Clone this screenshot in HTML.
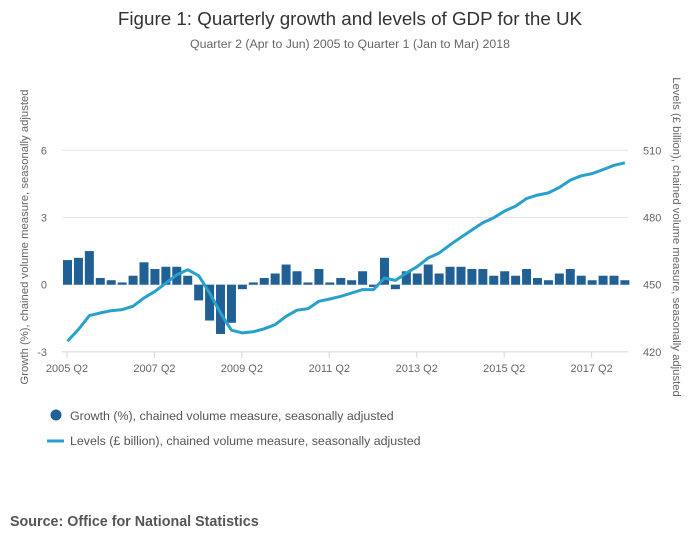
<!DOCTYPE html>
<html><head><meta charset="utf-8"><style>
body{margin:0;background:#fff;font-family:"Liberation Sans",sans-serif}
svg text{font-family:"Liberation Sans",sans-serif}
</style></head><body>
<svg id="chart" width="700" height="549">
<text x="350" y="25" text-anchor="middle" font-size="18.8" fill="#333">Figure 1: Quarterly growth and levels of GDP for the UK</text>
<text x="350" y="48" text-anchor="middle" font-size="12.3" fill="#666">Quarter 2 (Apr to Jun) 2005 to Quarter 1 (Jan to Mar) 2018</text>
<text transform="translate(28,237) rotate(-90)" text-anchor="middle" font-size="11.3" fill="#666">Growth (%), chained volume measure, seasonally adjusted</text>
<text transform="translate(673,237) rotate(90)" text-anchor="middle" font-size="11.3" fill="#666">Levels (£ billion), chained volume measure, seasonally adjusted</text>
<g id="grid"></g><g id="bars"></g><g id="line"></g><g id="axes"></g>
<g>
<circle cx="56" cy="415" r="5.5" fill="#206095"/>
<text x="70" y="420" font-size="12.4" fill="#555">Growth (%), chained volume measure, seasonally adjusted</text>
<line x1="47" y1="441" x2="64" y2="441" stroke="#27a0cc" stroke-width="3"/>
<text x="70" y="445" font-size="12.4" fill="#555">Levels (£ billion), chained volume measure, seasonally adjusted</text>
</g>
<text x="10" y="526" font-size="14.3" font-weight="bold" fill="#555">Source: Office for National Statistics</text>
</svg>
<script>
const growth=[1.1,1.2,1.5,0.3,0.2,0.1,0.4,1.0,0.7,0.8,0.8,0.4,-0.7,-1.6,-2.2,-1.7,-0.2,0.1,0.3,0.5,0.9,0.6,0.1,0.7,0.1,0.3,0.2,0.6,-0.1,1.2,-0.2,0.6,0.5,0.9,0.5,0.8,0.8,0.7,0.7,0.4,0.6,0.4,0.7,0.3,0.2,0.5,0.7,0.4,0.2,0.4,0.4,0.2];
const levels=[424.8,430,436.2,437.4,438.4,438.9,440.4,444.1,447,450.7,454.4,456.7,454,446.3,437.4,429.7,428.5,429,430.3,432.2,435.9,438.6,439.3,442.6,443.6,444.8,446.3,447.8,447.8,453,451.9,455.2,458.1,461.9,464.1,467.8,471.2,474.4,477.7,479.9,482.9,485.1,488.5,490,491,493.4,496.7,498.6,499.6,501.4,503.3,504.4];
const leftTicks=[-3,0,3,6];
const rightTicks=[420,450,480,510];
const xTickLabels=["2005 Q2","2007 Q2","2009 Q2","2011 Q2","2013 Q2","2015 Q2","2017 Q2"];
const NS="http://www.w3.org/2000/svg";
const x0=67.5,step=10.93;
const xs=i=>x0+i*step;
const yL=v=>284.7-v*22.4;
const yR=v=>284.7-(v-450)*2.24;
function mk(p,t,a){const e=document.createElementNS(NS,t);for(const k in a)e.setAttribute(k,a[k]);document.getElementById(p).appendChild(e);return e;}
leftTicks.forEach((v,i)=>{
 const g=mk('grid','line',{x1:62,x2:628,y1:yL(v),y2:yL(v),stroke:v==-3?'#ccd6eb':'#e6e6e6','stroke-width':1});
 
 
 const t=mk('axes','text',{x:47,y:yL(v)+4,'text-anchor':'end','font-size':11,fill:'#666'});
 t.textContent=v;
 
 
 const r=mk('axes','text',{x:643,y:yR(rightTicks[i])+4,'font-size':11,fill:'#666'});
 r.textContent=rightTicks[i];
 
 
});
xTickLabels.forEach((l,i)=>{
 const x=xs(i*8)-0.5;
 const tk=mk('axes','line',{x1:x,x2:x,y1:yL(-3),y2:yL(-3)+6,stroke:'#ccd6eb'});
 
 
 const t=mk('axes','text',{x:x,y:372,'text-anchor':'middle','font-size':11,fill:'#666'});
 t.textContent=l;
 
 
});
growth.forEach((v,i)=>{
 const y=Math.min(yL(v),yL(0)),h=Math.abs(yL(v)-yL(0));
 const b=mk('bars','rect',{x:xs(i)-4.5,y:y,width:9,height:Math.max(h,0.5),fill:'#206095'});
 
 
});
const p=mk('line','path',{d:levels.map((v,i)=>(i?'L':'M')+xs(i).toFixed(1)+','+yR(v).toFixed(1)).join(''),fill:'none',stroke:'#27a0cc','stroke-width':3,'stroke-linejoin':'round'});


</script>
</body></html>
